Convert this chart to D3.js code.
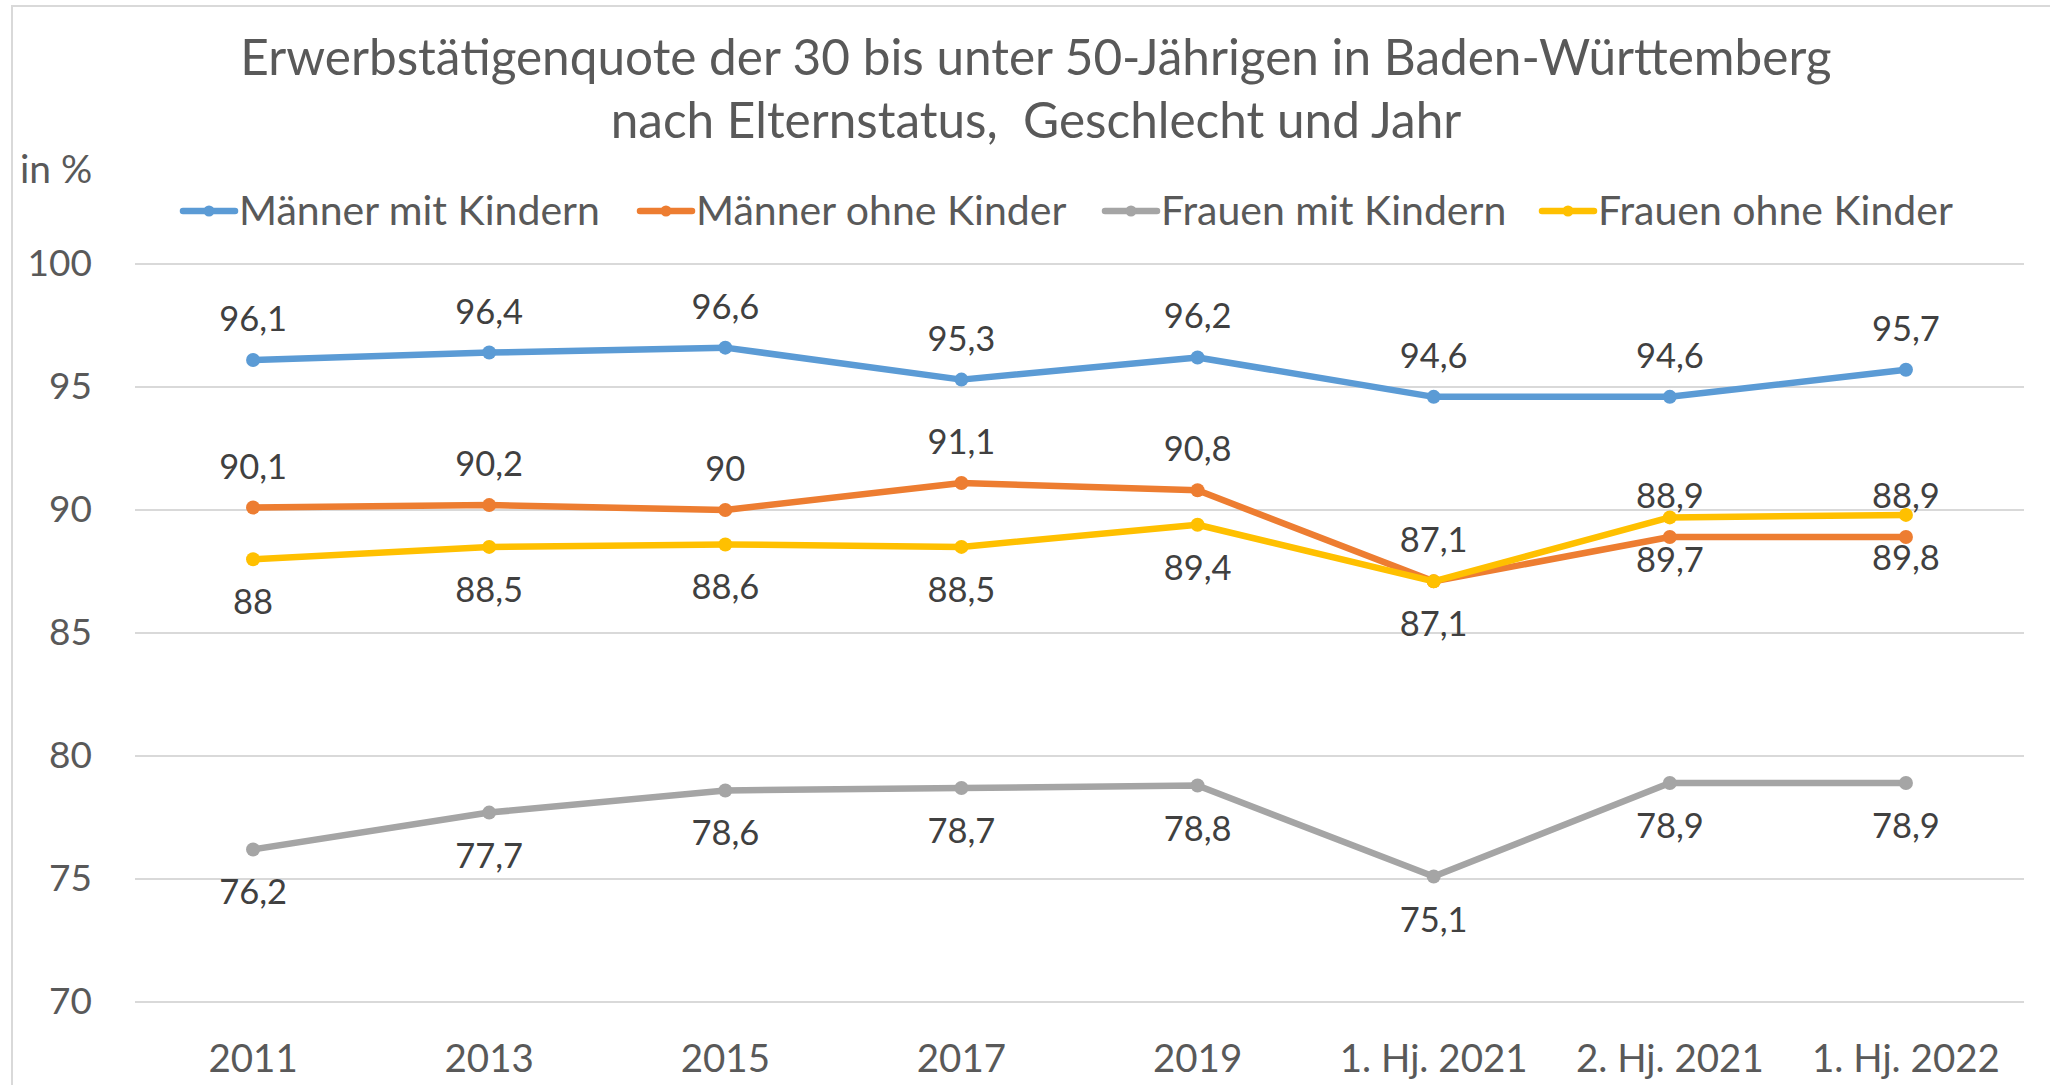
<!DOCTYPE html>
<html>
<head>
<meta charset="utf-8">
<script src="https://cdn.jsdelivr.net/npm/d3@7"></script>
<style>
  html, body { margin: 0; padding: 0; background: #fff; }
  svg { display: block; }
  text { font-family: Lato, "Open Sans", sans-serif; white-space: pre; }
</style>
</head>
<body>
<svg id="chart" width="2050" height="1085"></svg>
<script>
const categories = ["2011", "2013", "2015", "2017", "2019", "1. Hj. 2021", "2. Hj. 2021", "1. Hj. 2022"];
const maennerMitKindern = [96.1, 96.4, 96.6, 95.3, 96.2, 94.6, 94.6, 95.7];
const maennerOhneKinder = [90.1, 90.2, 90.0, 91.1, 90.8, 87.1, 88.9, 88.9];
const frauenMitKindern = [76.2, 77.7, 78.6, 78.7, 78.8, 75.1, 78.9, 78.9];
const frauenOhneKinder = [88.0, 88.5, 88.6, 88.5, 89.4, 87.1, 89.7, 89.8];
const seriesNames = ["Männer mit Kindern", "Männer ohne Kinder", "Frauen mit Kindern", "Frauen ohne Kinder"];
const yTicks = [70, 75, 80, 85, 90, 95, 100];
const titleLines = ["Erwerbstätigenquote der 30 bis unter 50-Jährigen in Baden-Württemberg", "nach Elternstatus,  Geschlecht und Jahr"];
const yUnit = "in %";

const seriesData = [maennerMitKindern, maennerOhneKinder, frauenMitKindern, frauenOhneKinder];
const colors = ["#5B9BD5", "#ED7D31", "#A5A5A5", "#FFC000"];
const labelAbove = [true, true, false, false];

const svg = d3.select("#chart");
const W = 2050, H = 1085;
const plot = { left: 135, right: 2024, top: 264, bottom: 1002 };

// chart border
svg.append("rect").attr("x", 12).attr("y", 6).attr("width", W + 20).attr("height", H + 20)
  .attr("fill", "none").attr("stroke", "#d9d9d9").attr("stroke-width", 2);

const x = d3.scaleBand().domain(categories).range([plot.left, plot.right]).padding(0);
const y = d3.scaleLinear().domain([70, 100]).range([plot.bottom, plot.top]);
const cx = c => x(c) + x.bandwidth() / 2;

// gridlines
svg.append("g").selectAll("line").data(yTicks).join("line")
  .attr("x1", plot.left).attr("x2", plot.right)
  .attr("y1", d => y(d)).attr("y2", d => y(d))
  .attr("stroke", "#d9d9d9").attr("stroke-width", 2);

// y axis labels
const yAxis = d3.axisLeft(y).tickValues(yTicks).tickSize(0).tickPadding(0).tickFormat(d3.format("d"));
const yG = svg.append("g").attr("transform", `translate(92,0)`).call(yAxis);
yG.select(".domain").remove();
yG.selectAll("text").attr("font-size", 37).attr("fill", "#595959")
  .style("font-family", "Lato, sans-serif");

// x axis labels
const xAxis = d3.axisBottom(x).tickSize(0).tickPadding(0);
const xG = svg.append("g").attr("transform", `translate(0,1072)`).call(xAxis);
xG.select(".domain").remove();
xG.selectAll("text").attr("font-size", 38.5).attr("fill", "#595959").attr("dy", 0)
  .style("font-family", "Lato, sans-serif");

// title
svg.append("g").selectAll("text").data(titleLines).join("text")
  .attr("x", 1036).attr("y", (d, i) => 75 + i * 63)
  .attr("text-anchor", "middle").attr("font-size", 49.5).attr("fill", "#595959")
  .text(d => d);

// unit
svg.append("text").attr("x", 20).attr("y", 183).attr("font-size", 39).attr("fill", "#595959").text(yUnit);

// legend
const legendX = [183, 640, 1105, 1542];
const leg = svg.append("g").selectAll("g").data(seriesNames).join("g")
  .attr("transform", (d, i) => `translate(${legendX[i]},211)`);
leg.append("line").attr("x1", 0).attr("x2", 52).attr("y1", 0).attr("y2", 0)
  .attr("stroke", (d, i) => colors[i]).attr("stroke-width", 6.5).attr("stroke-linecap", "round");
leg.append("circle").attr("cx", 26).attr("cy", 0).attr("r", 5.5).attr("fill", (d, i) => colors[i]);
leg.append("text").attr("x", 56).attr("y", 14).attr("font-size", 41).attr("fill", "#595959").text(d => d);

// lines
const line = d3.line().x((d, i) => cx(categories[i])).y(d => y(d));
const sG = svg.append("g").selectAll("g").data(seriesData).join("g");
sG.append("path").attr("d", d => line(d)).attr("fill", "none")
  .attr("stroke", (d, i) => colors[i]).attr("stroke-width", 6.5).attr("stroke-linejoin", "round");
sG.each(function(d, si) {
  d3.select(this).selectAll("circle").data(d).join("circle")
    .attr("cx", (v, i) => cx(categories[i])).attr("cy", v => y(v)).attr("r", 7)
    .attr("fill", colors[si]);
});

// data labels
const fmt = v => String(v).replace(".", ",");
sG.each(function(d, si) {
  d3.select(this).selectAll("text").data(d).join("text")
    .attr("x", (v, i) => cx(categories[i]))
    .attr("y", v => labelAbove[si] ? y(v) - 29 : y(v) + 55)
    .attr("text-anchor", "middle").attr("font-size", 34.5).attr("fill", "#404040")
    .text(v => fmt(v));
});
</script>
</body>
</html>
